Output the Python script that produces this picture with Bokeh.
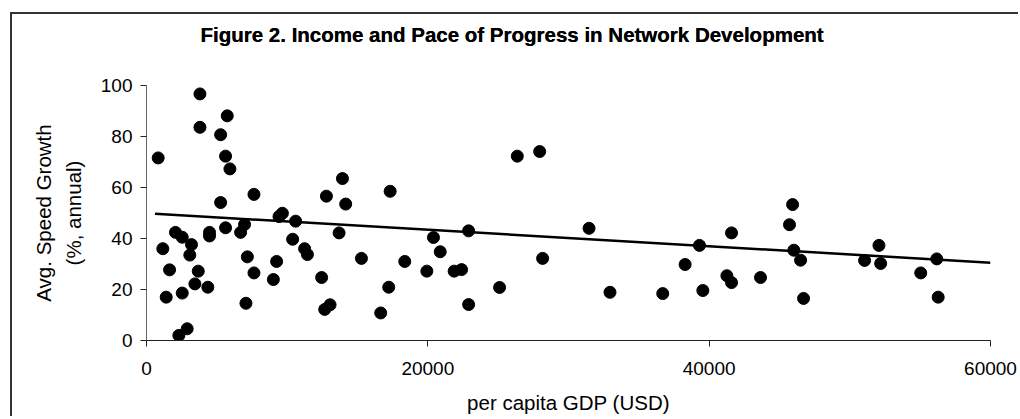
from bokeh.plotting import figure
from bokeh.models import Range1d, FixedTicker, LinearAxis
from bokeh.embed import file_html
from bokeh.resources import INLINE

# per capita GDP (USD)
gdp = [3800, 5740, 3800, 5270, 830, 5620, 5930, 7640, 5270, 9660,
       9420, 10600, 5620, 6970, 6690, 2060, 2540, 4480, 4480, 1160,
       3200, 3080, 10390, 11240, 11440, 7170, 9250, 1640, 3680, 7640,
       3440, 4360, 9020, 1400, 2540, 7070, 2890, 2300,
       13930, 12790, 14160, 17320, 13690, 15280, 12450, 12670, 13050, 16650,
       17220, 18360, 20400, 20880, 19930, 21870, 22400, 22900, 22900,
       26360, 27950, 25100, 28160, 31460, 32950,
       36700, 38290, 39310, 39550, 41590, 41260, 41590, 43650, 45930, 45710,
       46020, 46500, 46710,
       51050, 52070, 52190, 55040, 56180, 56280]
# Avg. speed growth (%, annual)
growth = [96.7, 88.1, 83.6, 80.7, 71.6, 72.3, 67.3, 57.3, 54.1, 49.9,
          48.6, 46.8, 44.2, 45.5, 42.4, 42.4, 40.5, 42.4, 41.0, 36.0,
          37.6, 33.5, 39.7, 36.0, 33.7, 32.8, 31.0, 27.7, 27.2, 26.5,
          22.2, 20.9, 23.9, 17.0, 18.6, 14.6, 4.6, 2.0,
          63.5, 56.6, 53.5, 58.5, 42.2, 32.2, 24.7, 12.2, 14.0, 10.8,
          20.9, 31.0, 40.4, 34.8, 27.2, 27.2, 27.8, 43.0, 14.1,
          72.3, 74.1, 20.8, 32.2, 44.0, 18.9,
          18.4, 29.8, 37.3, 19.6, 42.2, 25.4, 22.7, 24.7, 53.3, 45.4,
          35.4, 31.5, 16.5,
          31.4, 37.3, 30.2, 26.5, 32.0, 17.0]

# linear trend line as drawn in the chart
trend_intercept = 49.9
trend_slope = -0.000323
trend_x = [600, 60000]
trend_y = [trend_intercept + trend_slope * v for v in trend_x]

x_ticks = [0, 20000, 40000, 60000]
y_ticks = [0, 20, 40, 60, 80, 100]
x_max = 60000
y_max = 100

title_text = "Figure 2. Income and Pace of Progress in Network Development"
x_title = "per capita GDP (USD)"
y_title = "Avg. Speed Growth\n(%, annual)"

FONT = "Liberation Sans"

p = figure(output_backend="svg", toolbar_location=None,
           frame_width=844, frame_height=255,
           min_border_left=134, min_border_right=28,
           min_border_top=71, min_border_bottom=0,
           x_range=Range1d(0, x_max), y_range=Range1d(0, y_max))

p.styles = {"border-left": "2px solid #333", "border-top": "2px solid #333",
            "border-right": "none", "border-bottom": "none",
            "margin-left": "10px", "margin-top": "12px"}

xa = p.below[0]
ya = p.left[0]

p.title.text = title_text
p.title.align = "left"
p.title.offset = 54
p.title.vertical_align = "bottom"
p.title.standoff = 10
p.title.text_font = FONT
p.title.text_font_size = "20.5px"
p.title.text_font_style = "bold"
p.title.text_color = "black"

p.xgrid.visible = False
p.ygrid.visible = False
p.outline_line_color = None

p.line(trend_x, trend_y, line_color="black", line_width=2.5)
p.scatter(gdp, growth, size=12, fill_color="black", line_color="black")

for ax in (xa, ya):
    ax.major_tick_in = 0
    ax.major_tick_out = 6
    ax.minor_tick_line_color = None
    ax.axis_line_color = "#222"
    ax.major_tick_line_color = "#222"
    ax.major_label_text_font = FONT
    ax.major_label_text_font_size = "19px"
    ax.major_label_text_color = "black"
    ax.axis_label_text_font = FONT
    ax.axis_label_text_font_size = "20.5px"
    ax.axis_label_text_font_style = "normal"
    ax.axis_label_text_color = "black"

ya.axis_line_color = "#666"
ya.axis_label_text_line_height = 1.3
xa.ticker = FixedTicker(ticks=x_ticks)
ya.ticker = FixedTicker(ticks=y_ticks)
xa.axis_label = x_title
ya.axis_label = y_title
xa.major_label_standoff = 15
ya.major_label_standoff = 8
xa.axis_label_standoff = 13
ya.axis_label_standoff = 13

# invisible spacer between the title and the plot frame
spacer = LinearAxis(ticker=FixedTicker(ticks=[]), axis_line_color=None,
                    major_tick_in=0, major_tick_out=26, major_label_standoff=0,
                    axis_label_standoff=0, minor_tick_line_color=None,
                    major_label_text_font_size="0px")
p.above = [spacer, p.title]

open("out.html", "w").write(file_html(p, INLINE))
